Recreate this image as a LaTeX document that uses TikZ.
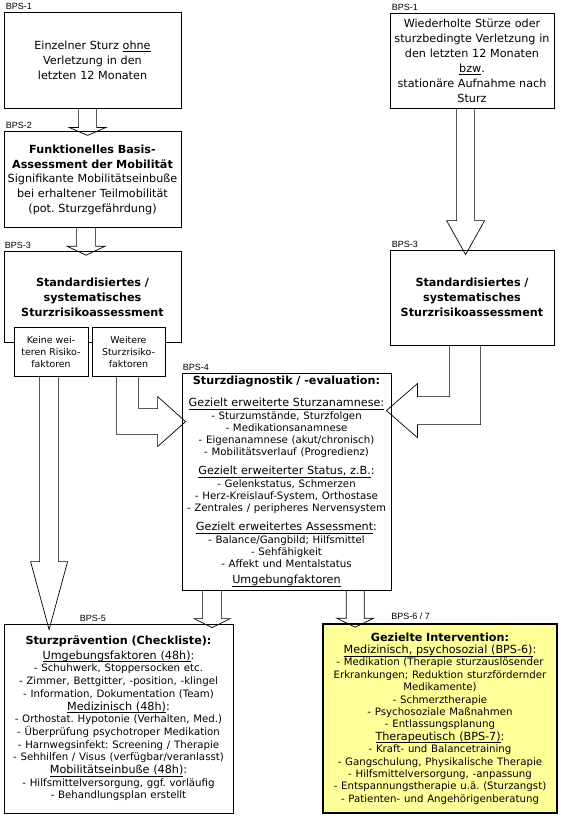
\documentclass[tikz,border=0pt]{standalone}
\usepackage{fontspec}
\setmainfont{DejaVu Sans}
\newfontfamily\lblfont{Liberation Sans}
\usetikzlibrary{positioning,calc}
\frenchspacing
\definecolor{intervyellow}{RGB}{255,255,153}
\newcommand{\mainsize}{\fontsize{11.2}{15}\selectfont}
\newcommand{\hdsize}{\fontsize{11.2}{12}\selectfont}
\newcommand{\itsize}{\fontsize{10.2}{12}\selectfont}
\newcommand{\undl}[1]{\underline{\smash{#1}\rule[-0.8pt]{0pt}{0pt}}}
\newcommand{\blockdown}[5]{%
  \draw[blockarr] let \p1=(#1), \p2=(#2) in
    (\x2-#3,\y1) -- (\x2-#3,\y2+#5) -- (\x2-#4,\y2+#5) -- (\x2,\y2)
    -- (\x2+#4,\y2+#5) -- (\x2+#3,\y2+#5) -- (\x2+#3,\y1);}

\begin{document}
\begin{tikzpicture}[
  x=1pt, y=-1pt,
  box/.style={draw, line width=0.8pt, align=center, inner sep=0pt, font=\mainsize},
  subbox/.style={box, fill=white, minimum width=74pt, minimum height=49pt,
                 text width=72pt, font=\fontsize{9.4}{12}\selectfont},
  bps/.style={anchor=base west, inner sep=0pt, yshift=2.5pt,
              font=\lblfont\fontsize{9}{10}\selectfont},
  blockarr/.style={draw, line width=0.7pt, line join=miter},
]
\useasboundingbox (0,0) rectangle (560,819);

% Left branch
\node[box, minimum width=177pt, minimum height=96pt, text width=172pt,
      label={[bps, xshift=2pt]north west:BPS-1}] (fallL) at (92.5,60)
  {Einzelner Sturz \undl{ohne}\\Verletzung in den\\letzten 12 Monaten};
\node[box, below=23pt of fallL, minimum width=177pt, minimum height=96pt, text width=175pt,
      font=\fontsize{11.2}{14.7}\selectfont,
      label={[bps, xshift=2pt]north west:BPS-2}] (mobil)
  {\textbf{Funktionelles Basis-}\\\textbf{Assessment der Mobilität}\\
   Signifikante Mobilitätseinbuße\\bei erhaltener Teilmobilität\\(pot. Sturzgefährdung)};
\node[box, below=23pt of mobil, minimum width=177pt, minimum height=91pt, text width=172pt,
      label={[bps, xshift=1pt]north west:BPS-3}] (riskL)
  {\textbf{Standardisiertes /}\\\textbf{systematisches}\\\textbf{Sturzrisikoassessment}};
\node[subbox] (keine) at (51,351.5) {Keine wei-\\teren Risiko-\\faktoren};
\node[subbox, minimum width=73pt] (weitere) at (128.5,351.5) {Weitere\\Sturzrisiko-\\faktoren};

% Right branch
\node[box, minimum width=164pt, minimum height=95pt, text width=162pt,
      label={[bps, xshift=2pt]north west:BPS-1}] (fallR) at (472,60.5)
  {Wiederholte Stürze oder\\sturzbedingte Verletzung in\\den letzten 12 Monaten\\
   \undl{bzw}.\\stationäre Aufnahme nach\\Sturz};
\node[box, minimum width=164pt, minimum height=95pt, text width=162pt,
      label={[bps, xshift=2pt]north west:BPS-3}] (riskR) at (472,297.5)
  {\textbf{Standardisiertes /}\\\textbf{systematisches}\\\textbf{Sturzrisikoassessment}};

% Diagnostik
\node[box, minimum width=209pt, minimum height=217pt, text width=207pt, font=\hdsize,
      label={[bps, xshift=1pt]north west:BPS-4}] (diag) at (286.5,481.5)
  {\textbf{Sturzdiagnostik / -evaluation:}\\[10pt]
   \undl{Gezielt erweiterte Sturzanamnese:}\\[1pt]
   \itsize - Sturzumstände, Sturzfolgen\\
   - Medikationsanamnese\\
   - Eigenanamnese (akut/chronisch)\\
   - Mobilitätsverlauf (Progredienz)\\[7pt]
   \hdsize\undl{Gezielt erweiterter Status, z.B.}:\\[1pt]
   \itsize - Gelenkstatus, Schmerzen\\
   - Herz-Kreislauf-System, Orthostase\\
   - Zentrales / peripheres Nervensystem\\[7pt]
   \hdsize\undl{Gezielt erweitertes Assessment}:\\[1pt]
   \itsize - Balance/Gangbild; Hilfsmittel\\
   - Sehfähigkeit\\
   - Affekt und Mentalstatus\\[4pt]
   \hdsize\undl{Umgebungfaktoren}};

% Ergebnis
\node[box, minimum width=229pt, minimum height=189pt, text width=227pt,
      font=\fontsize{11.2}{12.7}\selectfont,
      label={[bps, xshift=76pt]north west:BPS-5}] (praev) at (118.5,718.5)
  {\textbf{Sturzprävention (Checkliste):}\\[2pt]
   \undl{Umgebungsfaktoren (48h)}:\\
   \fontsize{10.2}{12.7}\selectfont - Schuhwerk, Stoppersocken etc.\\
   - Zimmer, Bettgitter, -position, -klingel\\
   - Information, Dokumentation (Team)\\
   \fontsize{11.2}{12.7}\selectfont\undl{Medizinisch (48h)}:\\
   \fontsize{10.2}{12.7}\selectfont - Orthostat. Hypotonie (Verhalten, Med.)\\
   - Überprüfung psychotroper Medikation\\
   - Harnwegsinfekt: Screening / Therapie\\
   - Sehhilfen / Visus (verfügbar/veranlasst)\\
   \fontsize{11.2}{12.7}\selectfont\undl{Mobilitätseinbuße (48h)}:\\
   \fontsize{10.2}{12.7}\selectfont - Hilfsmittelversorgung, ggf. vorläufig\\
   - Behandlungsplan erstellt\\[4pt]};
\node[box, line width=1.6pt, fill=intervyellow, minimum width=234pt, minimum height=189pt,
      text width=232pt, font=\fontsize{11.2}{12.4}\selectfont,
      label={[bps, xshift=69pt, yshift=1pt]north west:BPS-6 / 7}] (interv) at (440,718.5)
  {\textbf{Gezielte Intervention:}\\
   \undl{Medizinisch, psychosozial (BPS-6)}:\\
   \fontsize{10.2}{12.4}\selectfont - Medikation (Therapie sturzauslösender\\
   Erkrankungen; Reduktion sturzfördernder\\
   Medikamente)\\
   - Schmerztherapie\\
   - Psychosoziale Maßnahmen\\
   - Entlassungsplanung\\
   \fontsize{11.2}{12.4}\selectfont\undl{Therapeutisch (BPS-7)}:\\
   \fontsize{10.2}{12.4}\selectfont - Kraft- und Balancetraining\\
   - Gangschulung, Physikalische Therapie\\
   - Hilfsmittelversorgung, -anpassung\\
   - Entspannungstherapie u.ä. (Sturzangst)\\
   - Patienten- und Angehörigenberatung};

% Arrows
\blockdown{fallL.south}{$(mobil.north west)+(84,4)$}{9pt}{18.5pt}{8pt}
\blockdown{mobil.south}{$(riskL.north west)+(82.5,4)$}{9.5pt}{19pt}{9pt}
\blockdown{fallR.south}{$(riskR.north west)+(76,5)$}{9pt}{19pt}{34pt}
\blockdown{keine.south}{$(praev.north west)+(45.5,6)$}{9.5pt}{18.5pt}{68pt}
\blockdown{diag.south}{$(praev.north west)+(208.5,4)$}{9.5pt}{18pt}{9pt}
\blockdown{diag.south}{$(interv.north west)+(33,4)$}{9pt}{18.5pt}{9pt}

\draw[blockarr] let \p1=(weitere.south west), \p2=($(diag.north west)+(4,49)$) in
  (\x1+25pt,\y1) |- (\x2-28pt,\y2-13pt) -- (\x2-28pt,\y2-25pt) -- (\p2)
  -- (\x2-28pt,\y2+25pt) -- (\x2-28pt,\y2+13pt) -| (\x1+47pt,\y1);
\draw[blockarr] let \p1=(riskR.south west), \p2=($(diag.north east)+(-5,38)$) in
  (\x1+60pt,\y1) |- (\x2+31pt,\y2+14pt) -- (\x2+31pt,\y2+27pt) -- (\p2)
  -- (\x2+31pt,\y2-27pt) -- (\x2+31pt,\y2-14pt) -| (\x1+91pt,\y1);
\end{tikzpicture}
\end{document}
